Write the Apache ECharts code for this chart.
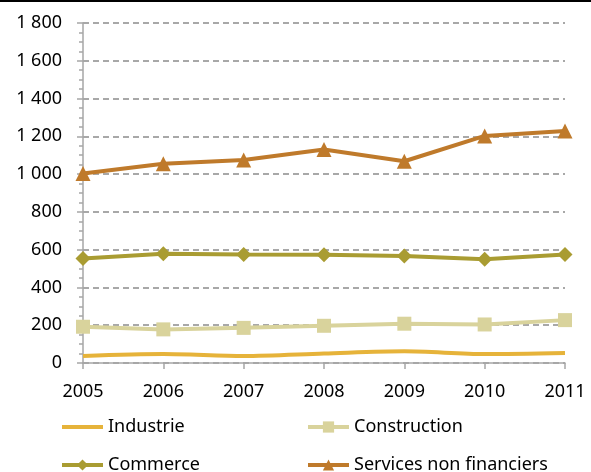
<!DOCTYPE html>
<html><head><meta charset="utf-8">
<script src="https://cdn.jsdelivr.net/npm/echarts@6/dist/echarts.min.js"></script>
<style>html,body{margin:0;padding:0;background:#fff}#c{width:591px;height:472px}</style>
</head><body><div id="c"></div>
<script>
var years = ['2005','2006','2007','2008','2009','2010','2011'];
var industrie = [37, 47, 37, 50, 62, 47, 53];
var construction = [192, 178, 186, 197, 208, 204, 227];
var commerce = [553, 579, 575, 573, 567, 549, 575];
var services = [1003, 1055, 1075, 1130, 1068, 1202, 1228];
var names = ['Industrie','Construction','Commerce','Services non financiers'];
var colors = ['#E6B33A','#D9D39C','#A99C32','#BF7A2B'];
var font = 'Noto Sans';

var chart = echarts.init(document.getElementById('c'));
function leg(name, left, top, hideSym){
  var o = {data:[name], left:left, top:top, padding:0, itemWidth:41, itemHeight:14, itemGap:0,
    lineStyle:{width:4}, textStyle:{fontFamily:font, fontSize:18, color:'#000'}, selectedMode:false};
  if (hideSym) o.itemStyle = {opacity:0};
  return o;
}
chart.setOption({
  animation:false,
  graphic:[{type:'rect', shape:{x:0,y:0,width:591,height:2}, style:{fill:'#000'}}],
  grid:{left:83, right:26, top:23, bottom:109},
  legend:[leg(names[0],60,418,true), leg(names[1],306,418), leg(names[2],60,456), leg(names[3],306,456)],
  xAxis:{type:'category', data:years, boundaryGap:false,
    axisLine:{lineStyle:{color:'#A6A6A6', width:1.5}},
    axisTick:{show:true, length:6, lineStyle:{color:'#A6A6A6', width:1.5}},
    axisLabel:{fontFamily:font, fontSize:18, color:'#000', margin:20}},
  yAxis:{type:'value', min:0, max:1800, interval:200,
    axisLine:{show:true, lineStyle:{color:'#A6A6A6', width:1.5}},
    axisTick:{show:true, length:6, lineStyle:{color:'#A6A6A6', width:1.5}},
    minorTick:{show:true, splitNumber:4, length:4, lineStyle:{color:'#A6A6A6', width:1.5}},
    splitLine:{show:true, lineStyle:{color:'#A8A8A8', width:2, type:[6,4]}},
    axisLabel:{fontFamily:font, fontSize:18, color:'#000', margin:21,
      formatter:function(v){return String(v).replace(/\B(?=(\d{3})+(?!\d))/g,' ');}}},
  series:[
    {name:names[0], type:'line', data:industrie, smooth:0.3, symbol:'circle', showSymbol:false, lineStyle:{width:4, color:colors[0]}, itemStyle:{color:colors[0]}},
    {name:names[1], type:'line', data:construction, symbol:'rect', symbolSize:14, lineStyle:{width:4, color:colors[1]}, itemStyle:{color:colors[1]}},
    {name:names[2], type:'line', data:commerce, symbol:'diamond', symbolSize:15, lineStyle:{width:4, color:colors[2]}, itemStyle:{color:colors[2]}},
    {name:names[3], type:'line', data:services, symbol:'triangle', symbolSize:15, lineStyle:{width:4, color:colors[3]}, itemStyle:{color:colors[3]}}
  ]
});
</script></body></html>
